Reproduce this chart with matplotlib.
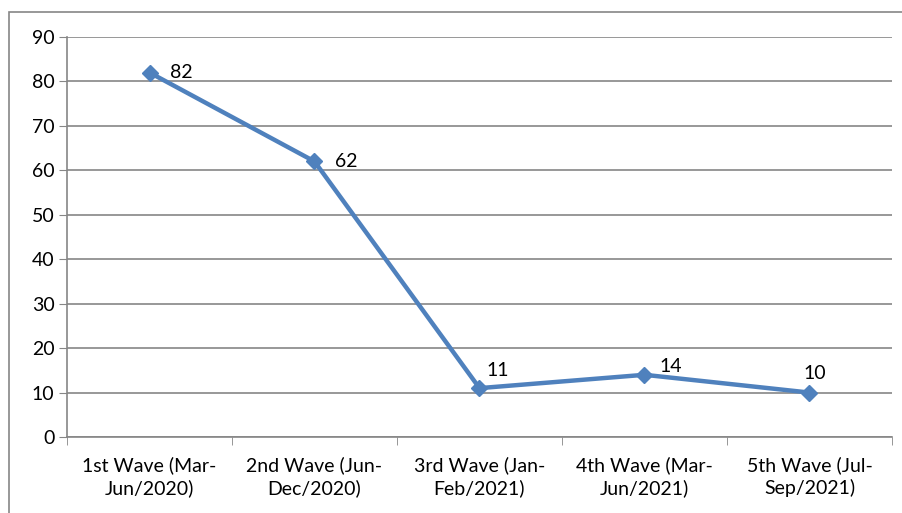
import numpy as np
import matplotlib.pyplot as plt
from matplotlib.patches import Rectangle

waves = ["1st Wave (Mar-\nJun/2020)", "2nd Wave (Jun-\nDec/2020)", "3rd Wave (Jan-\nFeb/2021)",
         "4th Wave (Mar-\nJun/2021)", "5th Wave (Jul-\nSep/2021)"]
values = [82, 62, 11, 14, 10]
# label offsets in points (dx, dy), text anchored at its left edge
offsets = [(15, 0), (15, 0), (5, 13), (11, 6), (-4, 14)]

plt.rcParams['font.family'] = ['Lato', 'DejaVu Sans']
fig = plt.figure(figsize=(9.03, 5.13), dpi=100)
ax = fig.add_axes([0.0742, 0.1481, 0.9136, 0.7798])

x = np.arange(len(values))
ax.plot(x, values, color='#4F81BD', lw=3.2, marker='D', ms=8, zorder=3, clip_on=False)
for xi, v, (dx, dy) in zip(x, values, offsets):
    ax.annotate(str(v), (xi, v), xytext=(dx, dy), textcoords='offset points',
                ha='left', va='center', fontsize=14)

ax.set_xlim(-0.5, len(values) - 0.5)
ax.set_ylim(0, 90)
ax.set_yticks(range(0, 91, 10))
ax.set_xticks(x)
ax.set_xticklabels(waves, fontsize=14, linespacing=1.3)
ax.set_xticks(np.arange(-0.5, len(values)), minor=True)
ax.tick_params(axis='x', which='major', length=0, pad=14)
ax.tick_params(axis='x', which='minor', length=6, color='#868686')
ax.tick_params(axis='y', labelsize=14, length=6, color='#868686', pad=3)
ax.grid(axis='y', color='#868686', lw=1.2)
ax.set_axisbelow(True)
for s in ['top', 'right']:
    ax.spines[s].set_visible(False)
for s in ['left', 'bottom']:
    ax.spines[s].set_color('#868686')
    ax.spines[s].set_linewidth(1.2)

# outer chart border
fig.patches.append(Rectangle((9 / 903, -0.1), 1.0, 1 - 12 / 513 + 0.1, transform=fig.transFigure,
                             fill=False, ec='#868686', lw=1.2))
fig.savefig('out.png', dpi=100)
